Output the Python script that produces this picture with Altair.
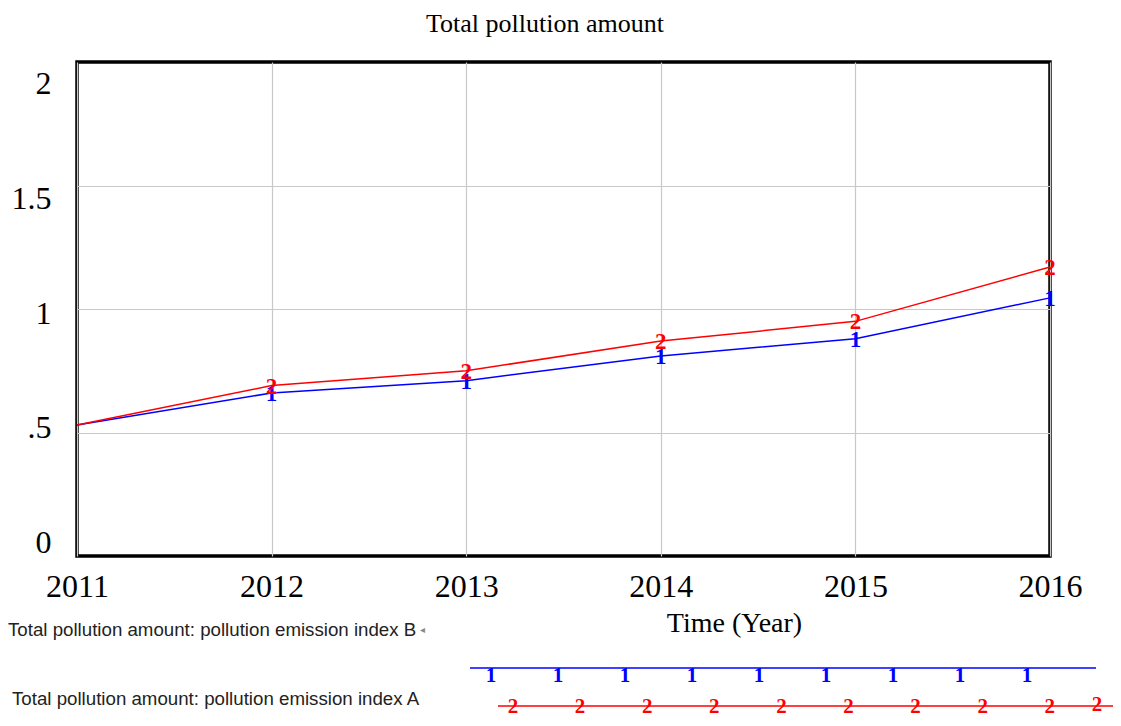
import altair as alt
import pandas as pd

# ---- data ----
years = [2011, 2012, 2013, 2014, 2015, 2016]
index_b = [0.53, 0.66, 0.71, 0.81, 0.88, 1.045]   # curve "1" (blue)
index_a = [0.53, 0.69, 0.75, 0.87, 0.95, 1.17]    # curve "2" (red)
series_names = [
    "Total pollution amount: pollution emission index B",
    "Total pollution amount: pollution emission index A",
]
marker_labels = ["1", "2"]
series_colors = ["#0000ff", "#ff0000"]
y_tick_values = [0, 0.5, 1, 1.5, 2]
x_tick_values = years
chart_title = "Total pollution amount"
x_title = "Time (Year)"

# ---- tables ----
rows = []
for name, mk, vals in zip(series_names, marker_labels, [index_b, index_a]):
    for yr, v in zip(years, vals):
        rows.append({"year": yr, "value": v, "series": name, "marker": mk})
df = pd.DataFrame(rows)
df_markers = df[df["year"] > years[0]]

W, H = 973, 494
SERIF = "Liberation Serif"
SANS = "Liberation Sans"
GRID = "#c8c8c8"

color_enc = alt.Color("series:N", scale=alt.Scale(domain=series_names, range=series_colors), legend=None)

x_enc = alt.X(
    "year:Q",
    scale=alt.Scale(domain=[years[0], years[-1]], nice=False, zero=False),
    axis=alt.Axis(
        values=x_tick_values, format="d", grid=True, gridColor=GRID, gridWidth=1.2,
        ticks=False, domain=False, labelFont=SERIF, labelFontSize=32, labelColor="black",
        labelPadding=15, labelFlush=False, labelOverlap=False,
        title=x_title, titleFont=SERIF, titleFontSize=28, titleFontWeight="normal",
        titleColor="black", titleX=657, titleY=53, titleAlign="center", titleBaseline="top",
    ),
)
y_enc = alt.Y(
    "value:Q",
    scale=alt.Scale(domain=[0, 2], nice=False, zero=False),
    axis=alt.Axis(
        orient="right", values=[0.5, 1, 1.5], grid=True, gridColor=GRID, gridWidth=1.2,
        labels=False, ticks=False, domain=False, title=None,
    ),
)

lines = alt.Chart(df).mark_line(strokeWidth=1.5).encode(x=x_enc, y=y_enc, color=color_enc, detail="series:N")
markers = alt.Chart(df_markers).mark_text(font=SERIF, fontSize=23, fontWeight="bold", baseline="middle", dy=1).encode(
    x="year:Q", y="value:Q", text="marker:N", color=color_enc
)
inner = alt.layer(lines, markers)

# y tick labels (Vensim spaces them evenly inside the frame)
ylab = alt.Chart(pd.DataFrame({"v": y_tick_values})).mark_point(opacity=0).encode(
    y=alt.Y(
        "v:Q",
        scale=alt.Scale(domain=[-0.061, 2.096], nice=False, zero=False),
        axis=alt.Axis(
            orient="left", values=y_tick_values,
            labelExpr="datum.value == 0.5 ? '.5' : format(datum.value, '~g')",
            ticks=False, domain=False, grid=False, labelFont=SERIF, labelFontSize=32,
            labelColor="black", labelPadding=26, labelOverlap=False, labelFlush=False, title=None,
        ),
    )
)

one = pd.DataFrame({"k": [0]})

# chart title
title_layer = alt.Chart(one).mark_text(
    text=chart_title, font=SERIF, fontSize=26, align="center", baseline="alphabetic", color="black"
).encode(x=alt.value(468), y=alt.value(-30))

# ---- legend (decoration below the plot) ----
leg_text_pos = [(-69, 568), (-65, 637)]
legend_layers = []
for name, (lx, ly) in zip(series_names, leg_text_pos):
    legend_layers.append(
        alt.Chart(one).mark_text(text=name, font=SANS, fontSize=18.7, align="left", baseline="middle",
                                 color="#222222").encode(x=alt.value(lx), y=alt.value(ly))
    )
legend_layers.append(
    alt.Chart(one).mark_text(text="◂", font=SANS, fontSize=10, align="left", baseline="middle",
                             color="#888888").encode(x=alt.value(-69 + 412), y=alt.value(568))
)
rule_specs = [(393, 1019, 606, series_colors[0]), (421, 1044, 644, series_colors[1])]
for x1, x2, yy, c in rule_specs:
    legend_layers.append(
        alt.Chart(one).mark_rule(color=c, strokeWidth=1.5).encode(
            x=alt.value(x1), x2=alt.value(x2), y=alt.value(yy)
        )
    )
leg_rows = []
for k in range(9):
    leg_rows.append({"px": 414 + 67 * k, "py": 614, "t": marker_labels[0], "c": series_colors[0]})
for k in range(9):
    leg_rows.append({"px": 436 + 67.1 * k, "py": 645, "t": marker_labels[1], "c": series_colors[1]})
leg_rows.append({"px": 1020, "py": 643, "t": marker_labels[1], "c": series_colors[1]})
leg_markers = alt.Chart(pd.DataFrame(leg_rows)).mark_text(
    font=SERIF, fontSize=21, fontWeight="bold", baseline="middle"
).encode(
    x=alt.X("px:Q", scale=None), y=alt.Y("py:Q", scale=None), text="t:N", color=alt.Color("c:N", scale=None)
)
legend_layers.append(leg_markers)

chart = (
    alt.layer(inner, ylab, title_layer, *legend_layers)
    .resolve_scale(y="independent")
    .properties(
        width=W, height=H,
        background="white",
        autosize=alt.AutoSizeParams(type="none"),
        padding={"left": 69, "top": 54, "right": 63, "bottom": 162},
    )
    .configure_view(stroke="black", strokeWidth=3.5)
)

chart.save("out.html", embed_options={"renderer": "svg", "actions": False})
